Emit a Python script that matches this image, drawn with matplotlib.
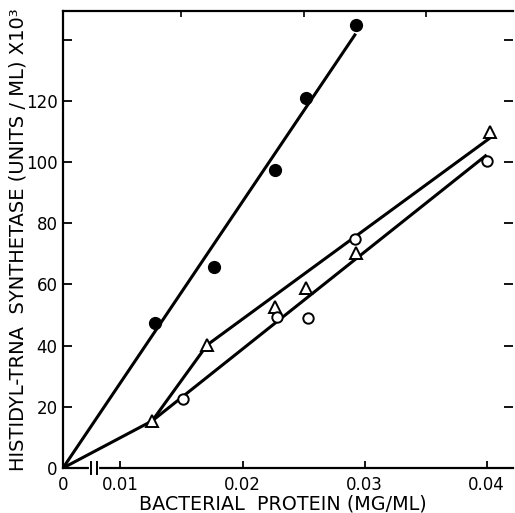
import matplotlib
matplotlib.use('Agg')
import matplotlib.pyplot as plt
import numpy as np

# Datos (proteína en MG/ML, actividad en unidades/ML x10^3)
proteina_llenos = [0.0128, 0.0177, 0.0227, 0.0252, 0.0293]
actividad_llenos = [47.3, 65.8, 97.4, 120.8, 144.8]

proteina_triangulos = [0.0126, 0.0171, 0.0227, 0.0252, 0.0293, 0.0403]
actividad_triangulos = [15.5, 40.2, 52.6, 58.7, 70.2, 109.9]

proteina_abiertos = [0.0151, 0.0228, 0.0254, 0.0292, 0.0400]
actividad_abiertos = [22.5, 49.3, 48.9, 74.7, 100.3]

# Rectas trazadas a mano en el original
recta_llenos_x = [0, 0.0292]
recta_llenos_y = [0, 141.5]
recta_triangulos_x = [0, 0.0126, 0.0171, 0.0405]
recta_triangulos_y = [0, 15.4, 40.2, 108.5]
recta_abiertos_x = [0.0126, 0.0399]
recta_abiertos_y = [15.4, 102.0]

ticks_x = [0.01, 0.02, 0.03, 0.04]
ticks_y = [0, 20, 40, 60, 80, 100, 120, 140]
etiquetas_y = ['0', '20', '40', '60', '80', '100', '120', '']

# El eje x está cortado: el cero se dibuja en esta posición
X_CERO = 0.005295
CORTE = [0.00758, 0.00805]


def a_eje(valores):
    v = np.asarray(valores, dtype=float)
    return np.where(v == 0, X_CERO, v)


def crear_grafico():
    fig = plt.figure(figsize=(5.15, 5.13), dpi=100)
    ax = fig.add_axes([0.1223, 0.0877, 0.8737, 0.8913])
    ax.set_xlim(X_CERO, 0.04215)
    ax.set_ylim(0, 149.4)

    lw = 2.2
    ax.plot(a_eje(recta_llenos_x), recta_llenos_y, color='black', lw=lw, zorder=2)
    ax.plot(a_eje(recta_triangulos_x), recta_triangulos_y, color='black', lw=lw, zorder=2)
    ax.plot(a_eje(recta_abiertos_x), recta_abiertos_y, color='black', lw=lw, zorder=2)

    ax.plot(proteina_llenos, actividad_llenos, 'o', ms=8.5, color='black', zorder=3)
    ax.plot(proteina_triangulos, actividad_triangulos, '^', ms=8, mfc='white',
            mec='black', mew=1.4, zorder=3)
    ax.plot(proteina_abiertos, actividad_abiertos, 'o', ms=7.5, mfc='white',
            mec='black', mew=1.4, zorder=3)

    # Ejes y marcas
    for lado in ['left', 'bottom', 'top']:
        ax.spines[lado].set_linewidth(1.6)
    ax.spines['right'].set_visible(False)

    ax.set_xticks([X_CERO] + ticks_x)
    ax.set_xticklabels(['0'] + ['%.2f' % t for t in ticks_x])
    ax.set_xticks(np.arange(0.01, 0.0401, 0.005), minor=True)
    ax.set_yticks(ticks_y)
    ax.set_yticklabels(etiquetas_y)

    ax.tick_params(axis='x', which='major', direction='in', length=5, width=1.3,
                   labelsize=12, pad=5.5, top=False)
    ax.tick_params(axis='x', which='minor', direction='in', length=4, width=1.2,
                   bottom=False, top=True)
    ax.tick_params(axis='y', which='major', direction='in', length=6.5, width=1.3,
                   labelsize=12, pad=4, right=True)

    # Marca de corte en el eje x
    ax.plot(CORTE, [0, 0], color='white', lw=3, clip_on=False, zorder=5,
            transform=ax.get_xaxis_transform())
    for xc in CORTE:
        ax.plot([xc, xc], [-0.013, 0.013], color='black', lw=1.4, clip_on=False,
                zorder=6, transform=ax.get_xaxis_transform())

    ax.text(0.488, -0.0905, 'BACTERIAL  PROTEIN (MG/ML)', transform=ax.transAxes,
            ha='center', va='baseline', fontsize=13.8)
    ax.set_ylabel('HISTIDYL-TRNA  SYNTHETASE (UNITS / ML) X10³', fontsize=14)
    ax.yaxis.set_label_coords(-0.079, 0.4997)

    fig.savefig('out.png', dpi=100, facecolor='white')


if __name__ == "__main__":
    crear_grafico()
